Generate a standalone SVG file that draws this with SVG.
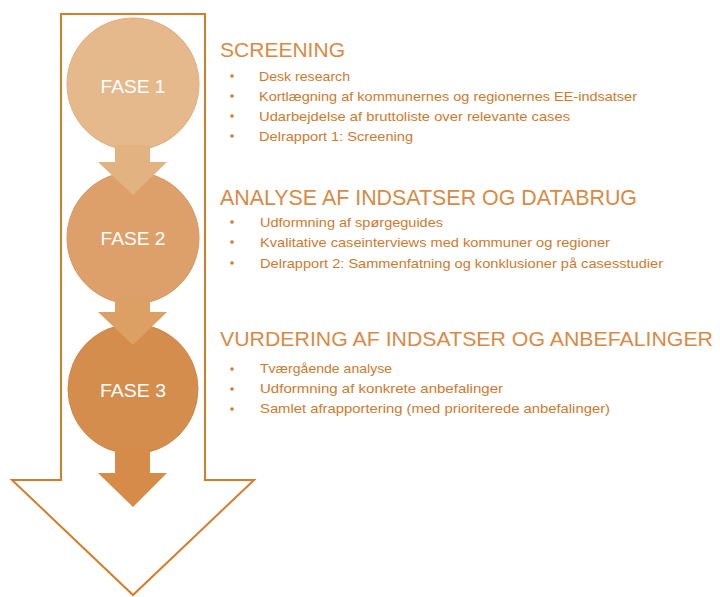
<svg xmlns="http://www.w3.org/2000/svg" width="720" height="597" viewBox="0 0 720 597">
<style>
.title{font-family:"Liberation Sans","Open Sans",sans-serif;font-size:21px;fill:#d98a45}
.item{font-family:"Liberation Sans","Open Sans",sans-serif;font-size:13.5px;fill:#cf7a2e}
.bul{fill:#cf7a2e}
.lbl{font-family:"Liberation Sans","Open Sans",sans-serif;font-size:19px;fill:#ffffff;text-anchor:middle}
</style>
<rect width="720" height="597" fill="#ffffff"/>
<g id="big-arrow">
<path d="M61,14 H205 V480 H254 L133,595 L12,480 H61 Z" fill="#ffffff" stroke="#d57d2a" stroke-width="2"/>
</g>
<g id="fase1">
<circle cx="133" cy="84" r="66" fill="#e6b98d" stroke="#e0ad7c" stroke-width="1"/>
<text class="lbl" x="133" y="93" textLength="65" lengthAdjust="spacingAndGlyphs">FASE 1</text>
</g>
<g id="fase2">
<circle cx="133" cy="238" r="66" fill="#dda06a" stroke="#d7975e" stroke-width="1"/>
<text class="lbl" x="133" y="245" textLength="65" lengthAdjust="spacingAndGlyphs">FASE 2</text>
</g>
<g id="fase3">
<circle cx="133" cy="389" r="65" fill="#d58d4e" stroke="#cf8444" stroke-width="1"/>
<text class="lbl" x="133" y="397" textLength="66" lengthAdjust="spacingAndGlyphs">FASE 3</text>
</g>
<g id="connectors">
<path id="arrow12" d="M115,145 H150 V162 H167 L133,195 L98,162 H115 Z" fill="#e3b281"/>
<path id="arrow23" d="M115,298 H150 V312 H167 L133,345 L98,312 H115 Z" fill="#dca065"/>
<path id="arrow3out" d="M115,448 H150 V473 H167 L133,507 L98,473 H115 Z" fill="#d68b49"/>
</g>
<g id="section1">
<text class="title" x="220" y="57" textLength="125" lengthAdjust="spacingAndGlyphs">SCREENING</text>
<circle class="bul" cx="232" cy="76" r="1.8"/>
<circle class="bul" cx="232" cy="96" r="1.8"/>
<circle class="bul" cx="232" cy="116" r="1.8"/>
<circle class="bul" cx="232" cy="136" r="1.8"/>
<text class="item" x="259" y="81" textLength="91" lengthAdjust="spacingAndGlyphs">Desk research</text>
<text class="item" x="259" y="101" textLength="378" lengthAdjust="spacingAndGlyphs">Kortlægning af kommunernes og regionernes EE-indsatser</text>
<text class="item" x="259" y="121" textLength="311" lengthAdjust="spacingAndGlyphs">Udarbejdelse af bruttoliste over relevante cases</text>
<text class="item" x="259" y="141" textLength="154" lengthAdjust="spacingAndGlyphs">Delrapport 1: Screening</text>
</g>
<g id="section2">
<text class="title" x="220" y="205" style="font-size:22.5px" textLength="417" lengthAdjust="spacingAndGlyphs">ANALYSE AF INDSATSER OG DATABRUG</text>
<circle class="bul" cx="232" cy="222" r="1.8"/>
<circle class="bul" cx="232" cy="242" r="1.8"/>
<circle class="bul" cx="232" cy="263" r="1.8"/>
<text class="item" x="260" y="227" textLength="183" lengthAdjust="spacingAndGlyphs">Udformning af spørgeguides</text>
<text class="item" x="260" y="247" textLength="350" lengthAdjust="spacingAndGlyphs">Kvalitative caseinterviews med kommuner og regioner</text>
<text class="item" x="260" y="268" textLength="403" lengthAdjust="spacingAndGlyphs">Delrapport 2: Sammenfatning og konklusioner på casesstudier</text>
</g>
<g id="section3">
<text class="title" x="220" y="346" style="font-size:21px" textLength="493" lengthAdjust="spacingAndGlyphs">VURDERING AF INDSATSER OG ANBEFALINGER</text>
<circle class="bul" cx="232" cy="369" r="1.8"/>
<circle class="bul" cx="232" cy="389" r="1.8"/>
<circle class="bul" cx="232" cy="409" r="1.8"/>
<text class="item" x="260" y="373" textLength="132" lengthAdjust="spacingAndGlyphs">Tværgående analyse</text>
<text class="item" x="260" y="393" textLength="243" lengthAdjust="spacingAndGlyphs">Udformning af  konkrete anbefalinger</text>
<text class="item" x="260" y="413" textLength="350" lengthAdjust="spacingAndGlyphs">Samlet afrapportering (med prioriterede anbefalinger)</text>
</g>
</svg>
